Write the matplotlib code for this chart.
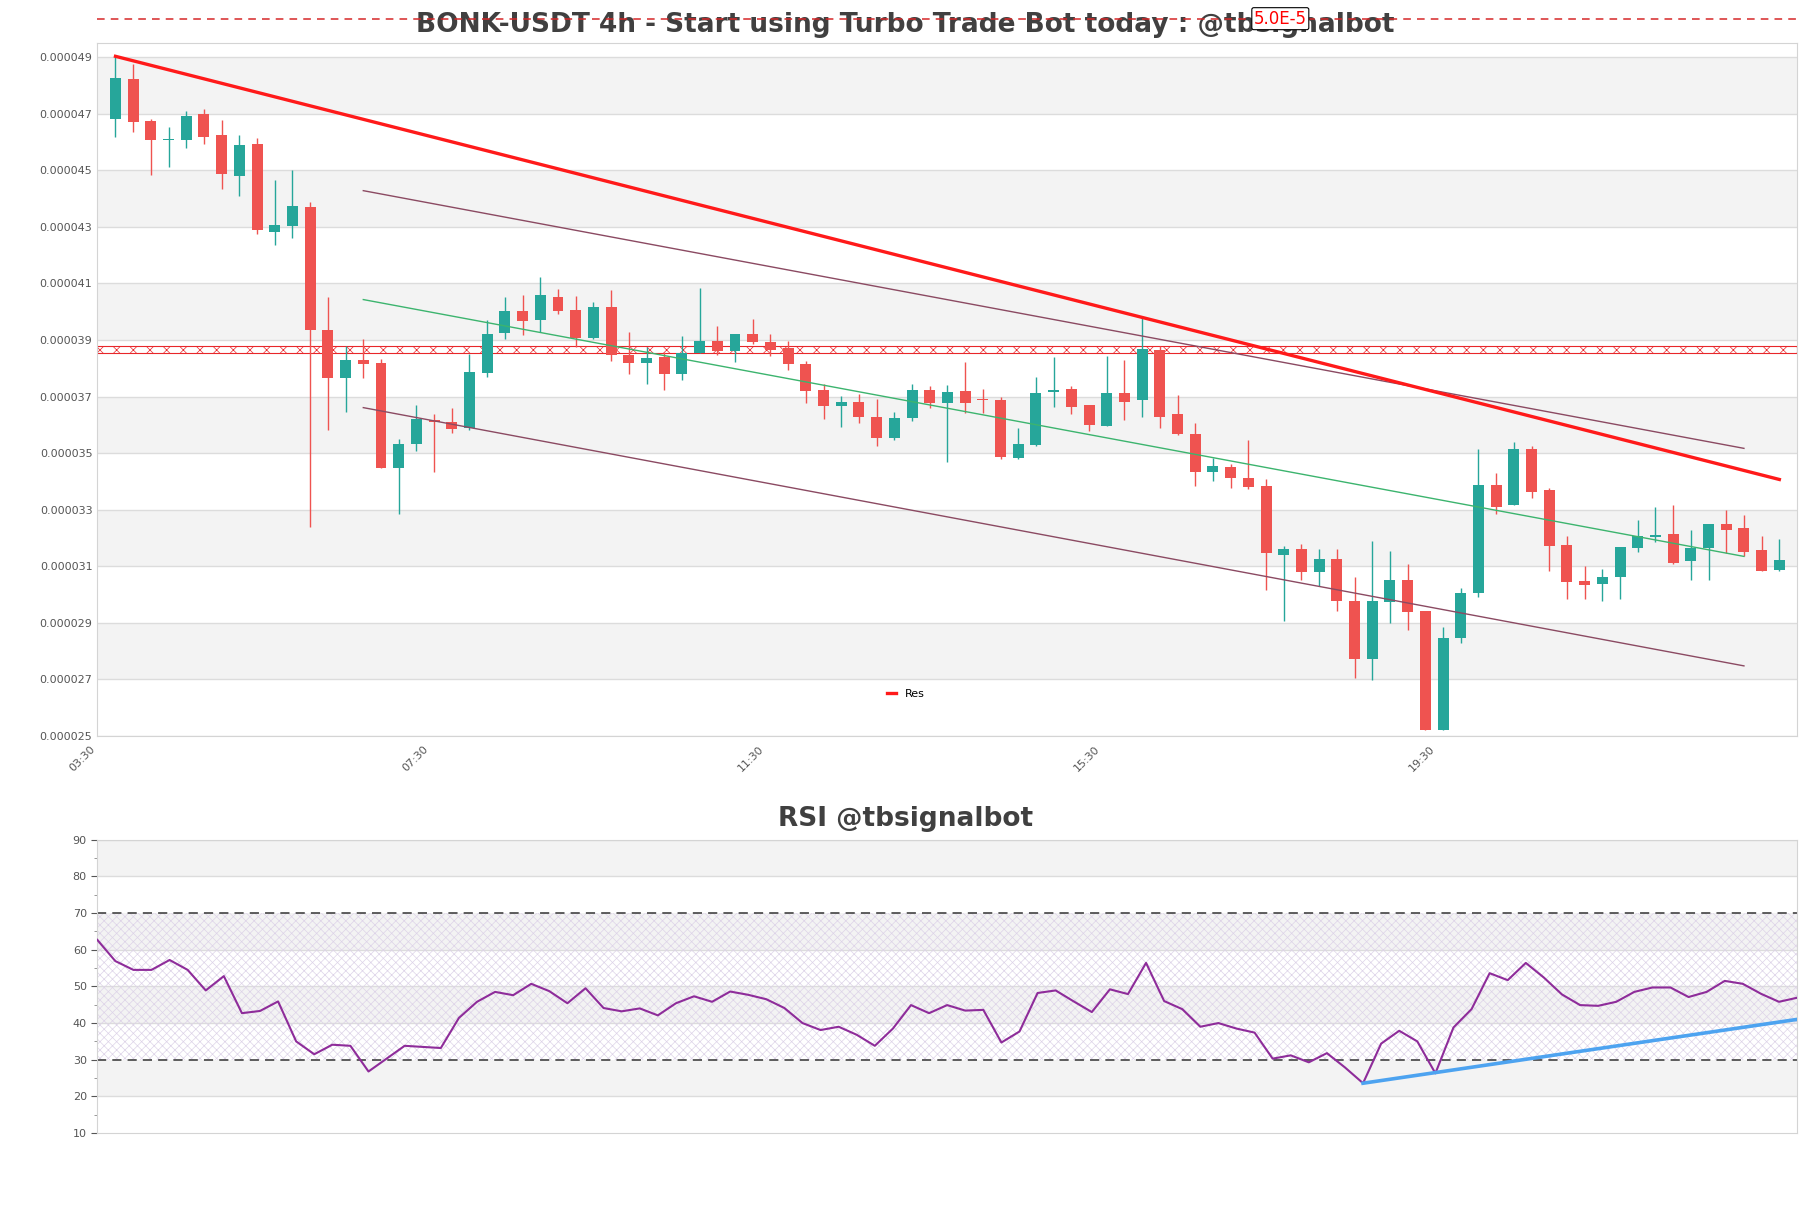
import matplotlib
matplotlib.use("Agg")
import matplotlib.pyplot as plt
from matplotlib.ticker import FixedLocator, MultipleLocator
import numpy as np

# candles, prices in units of 1e-6 USDT
opens = [46.82, 48.21, 46.73, 46.08, 46.08, 46.98, 46.24, 44.80, 45.92, 42.83,
         43.03, 43.70, 39.34, 37.67, 38.31, 38.20, 34.48, 35.31, 36.18, 36.09,
         35.90, 37.84, 39.24, 40.02, 39.72, 40.52, 40.05, 39.07, 40.16, 38.46,
         38.19, 38.39, 37.81, 38.55, 38.98, 38.60, 39.20, 38.94, 38.72, 38.16,
         37.22, 36.67, 36.80, 36.29, 35.53, 36.24, 37.22, 36.77, 37.19, 36.90,
         36.88, 34.82, 35.30, 37.15, 37.26, 36.69, 35.96, 37.11, 36.88, 38.63,
         36.37, 35.69, 34.32, 34.52, 34.11, 33.83, 31.40, 31.60, 30.80, 31.27,
         29.79, 27.74, 29.74, 30.53, 29.41, 25.23, 28.46, 30.06, 33.88, 33.17,
         35.16, 33.69, 31.75, 30.47, 30.37, 30.63, 31.64, 32.05, 32.14, 31.19,
         31.64, 32.49, 32.36, 31.59, 30.88]
highs = [49.03, 48.76, 46.82, 46.52, 47.11, 47.15, 46.79, 46.24, 46.13, 44.67,
         45.01, 43.89, 40.51, 38.80, 39.02, 38.33, 35.49, 36.72, 36.40, 36.58,
         38.49, 39.72, 40.51, 40.59, 41.22, 40.79, 40.54, 40.33, 40.76, 39.28,
         38.77, 38.58, 39.13, 40.85, 39.49, 39.20, 39.74, 39.21, 38.97, 38.27,
         37.43, 37.03, 37.08, 36.93, 36.44, 37.45, 37.38, 37.40, 38.22, 37.27,
         37.00, 35.90, 37.68, 38.39, 37.38, 36.69, 38.42, 38.31, 39.81, 38.80,
         37.05, 36.06, 34.83, 34.60, 35.46, 34.08, 31.72, 31.79, 31.60, 31.60,
         30.61, 31.89, 31.53, 31.07, 29.41, 28.87, 30.23, 35.16, 34.31, 35.38,
         35.24, 33.77, 32.08, 31.00, 30.91, 31.67, 32.63, 33.09, 33.17, 32.27,
         32.49, 32.98, 32.80, 32.08, 31.95]
lows = [46.16, 46.36, 44.82, 45.10, 45.80, 45.94, 44.34, 44.09, 42.76, 42.35,
        42.62, 32.39, 35.82, 36.45, 37.67, 34.48, 32.85, 35.06, 34.35, 35.73,
        35.82, 37.70, 39.05, 39.18, 39.29, 39.92, 38.74, 39.04, 38.27, 37.81,
        37.43, 37.24, 37.59, 38.55, 38.47, 38.23, 38.87, 38.43, 37.93, 36.77,
        36.22, 35.94, 36.06, 35.24, 35.47, 36.13, 36.61, 34.68, 36.43, 36.43,
        34.78, 34.79, 35.25, 36.62, 36.39, 35.79, 35.96, 36.18, 36.27, 35.90,
        35.65, 33.85, 34.00, 33.77, 33.72, 30.17, 29.06, 30.53, 30.31, 29.43,
        27.06, 26.98, 29.00, 28.75, 25.23, 25.20, 28.29, 29.93, 32.85, 33.17,
        33.42, 30.85, 29.85, 29.85, 29.77, 29.85, 31.51, 31.86, 31.08, 30.50,
        30.50, 31.48, 31.35, 30.85, 30.85]
closes = [48.26, 46.71, 46.08, 46.10, 46.92, 46.17, 44.88, 45.89, 42.89, 43.05,
          43.73, 39.36, 37.67, 38.31, 38.16, 34.48, 35.31, 36.20, 36.09, 35.87,
          37.87, 39.20, 40.02, 39.67, 40.59, 40.03, 39.07, 40.16, 38.47, 38.19,
          38.38, 37.81, 38.53, 38.98, 38.60, 39.20, 38.93, 38.63, 38.16, 37.21,
          36.67, 36.81, 36.28, 35.53, 36.26, 37.24, 36.77, 37.16, 36.77, 36.87,
          34.87, 35.34, 37.11, 37.24, 36.64, 35.99, 37.11, 36.81, 38.68, 36.27,
          35.68, 34.34, 34.56, 34.11, 33.80, 31.48, 31.60, 30.80, 31.26, 29.77,
          27.72, 29.79, 30.50, 29.38, 25.23, 28.48, 30.07, 33.88, 33.09, 35.16,
          33.62, 31.71, 30.45, 30.34, 30.63, 31.67, 32.06, 32.09, 31.13, 31.64,
          32.49, 32.27, 31.51, 30.85, 31.21]

rsi = [62.7, 56.9, 54.5, 54.5, 57.2, 54.5, 48.9, 52.8, 42.7, 43.3,
       45.9, 35.0, 31.5, 34.1, 33.8, 26.8, 30.3, 33.8, 33.5, 33.2,
       41.4, 45.8, 48.5, 47.6, 50.7, 48.7, 45.4, 49.5, 44.1, 43.2,
       44.0, 42.1, 45.4, 47.3, 45.8, 48.6, 47.7, 46.5, 44.1, 40.0,
       38.1, 39.0, 36.8, 33.8, 38.5, 44.9, 42.7, 44.9, 43.4, 43.6,
       34.7, 37.7, 48.2, 48.9, 45.9, 43.0, 49.2, 47.9, 56.4, 46.0,
       43.8, 39.0, 40.0, 38.5, 37.4, 30.3, 31.2, 29.3, 31.8, 27.9,
       23.6, 34.4, 37.9, 35.0, 26.3, 38.8, 43.8, 53.6, 51.7, 56.4,
       52.4, 47.8, 44.9, 44.7, 45.8, 48.5, 49.7, 49.7, 47.1, 48.5,
       51.5, 50.7, 48.0, 45.8, 46.9]

# trend lines: (start index, end index, start price, end price)
res_line = (0, 94, 49.03, 34.07)
chan_upper = (14, 92, 44.28, 35.17)
chan_mid = (14, 92, 40.43, 31.35)
chan_lower = (14, 92, 36.61, 27.48)
rsi_support = (70, 94, 23.6, 41.0)
zone = (38.54, 38.78)
ceiling = 50.36
ceiling_label = "5.0E-5"

time_labels = ["03:30", "07:30", "11:30", "15:30", "19:30"]
time_pos = [-1.03, 17.8, 36.75, 55.7, 74.65]

scale = 1e-6
up_col, down_col = "#26a69a", "#ef5350"
band_col, grid_col, spine_col = "#f3f3f3", "#dcdcdc", "#d4d4d4"
plt.rcParams["hatch.linewidth"] = 0.5

fig = plt.figure(figsize=(18.11, 12.08), dpi=100)
ax = fig.add_axes([0.0537, 0.3907, 0.9386, 0.5737])
ax2 = fig.add_axes([0.0537, 0.062, 0.9386, 0.2429])

# ---- price panel ----
o, h, l, c = (np.array(v) * scale for v in (opens, highs, lows, closes))
x = np.arange(len(o))
cols = np.where(c >= o, up_col, down_col)
body = np.maximum(np.abs(c - o), 0.04 * scale)
ax.vlines(x, l, h, color=cols, lw=1, zorder=3)
ax.bar(x, body, bottom=np.minimum(o, c), width=0.62, color=cols, zorder=4)

yticks = np.arange(25, 50, 2) * scale
for lo, hi in zip(yticks[1::2], yticks[2::2]):
    ax.axhspan(lo, hi, color=band_col, lw=0, zorder=0)
for yt in yticks:
    ax.axhline(yt, color=grid_col, lw=1, zorder=0.5)

for seg, col in [(chan_upper, "#8b4a62"), (chan_lower, "#8b4a62"), (chan_mid, "#3cb46e")]:
    ax.plot(seg[:2], np.array(seg[2:]) * scale, color=col, lw=1, zorder=5)
ax.plot(res_line[:2], np.array(res_line[2:]) * scale, color="#ff1a1a", lw=2.4,
        zorder=6, label="Res")

ax.axhspan(zone[0] * scale, zone[1] * scale, fill=False, hatch="xx",
           edgecolor="#e8262a", lw=0.8, zorder=2)

ax.axhline(ceiling * scale, color="#d62728", lw=1.1, ls=(0, (5, 4)),
           clip_on=False, zorder=7)
ax.text(0.696, ceiling * scale, ceiling_label, transform=ax.get_yaxis_transform(),
        color="red", fontsize=12, ha="center", va="center", zorder=8, clip_on=False,
        bbox=dict(boxstyle="round,pad=0.12", fc="white", ec="black", lw=0.8))

ax.set_xlim(-1.03, 95.0)
ax.set_ylim(25 * scale, 49.5 * scale)
ax.yaxis.set_major_locator(FixedLocator(yticks))
ax.set_yticklabels([f"{v:.6f}" for v in yticks])
ax.set_xticks(time_pos)
ax.set_xticklabels(time_labels, rotation=45, ha="right")
ax.tick_params(axis="both", length=0, labelsize=8, colors="#555555")
ax.tick_params(axis="x", pad=6)
for s in ax.spines.values():
    s.set_color(spine_col)

ax.set_title("BONK-USDT 4h - Start using Turbo Trade Bot today : @tbsignalbot",
             x=0.4752, y=1.004, fontsize=19, fontweight="bold", color="#404040")

fig.legend(loc="center", bbox_to_anchor=(0.5, 0.4255), frameon=False, fontsize=8,
           handlelength=0.8, handletextpad=0.8)

# ---- RSI panel ----
xr = np.arange(len(rsi))
for lo in (20, 40, 60, 80):
    ax2.axhspan(lo, lo + 10, color=band_col, lw=0, zorder=0)
for yt in (20, 40, 50, 60, 80, 90):
    ax2.axhline(yt, color=grid_col, lw=1, zorder=0.5)
ax2.axhspan(30, 70, fill=False, hatch="xxxx", edgecolor="#ddd3e8", lw=0, zorder=1)
for lvl in (30, 70):
    ax2.axhline(lvl, color="#333333", lw=1.1, ls=(0, (6, 4)), zorder=2)
ax2.plot(xr, rsi, color="#8e2c9a", lw=1.5, zorder=3)
ax2.plot(rsi_support[:2], rsi_support[2:], color="#4da3f0", lw=2.6, zorder=4)

ax2.set_xlim(0, len(rsi) - 1)
ax2.set_ylim(10, 90)
ax2.yaxis.set_major_locator(MultipleLocator(10))
ax2.yaxis.set_minor_locator(MultipleLocator(5))
ax2.set_xticks([])
ax2.tick_params(axis="y", which="major", length=4, labelsize=8, colors="#555555")
ax2.tick_params(axis="y", which="minor", length=2, colors="#888888")
for s in ax2.spines.values():
    s.set_color(spine_col)
fig.text(0.5, 0.322, "RSI @tbsignalbot", ha="center", va="center", fontsize=19,
         fontweight="bold", color="#404040")

fig.savefig("out.png", dpi=100, facecolor="white")
